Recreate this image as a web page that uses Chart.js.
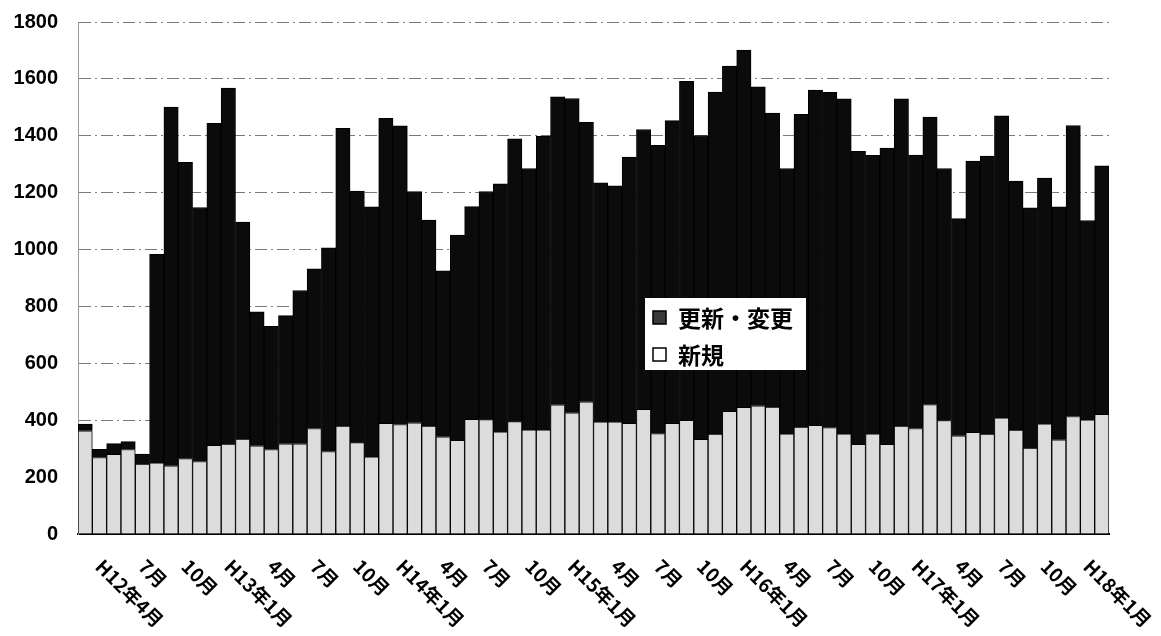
<!DOCTYPE html>
<html lang="ja">
<head>
<meta charset="utf-8">
<title>申請件数の推移</title>
<script src="https://cdn.jsdelivr.net/npm/chart.js@4.4.1/dist/chart.umd.min.js"></script>
<style>
    html, body { margin: 0; padding: 0; background: #fff; }
    #wrap { width: 1161px; height: 636px; position: relative; }
</style>
</head>
<body>
<div id="wrap"><canvas id="applicationsChart"></canvas></div>
<script>
// ── Data: monthly counts, H12年4月 – H18年3月 ──
const tickLabels = [
    'H12年4月', '7月', '10月', 'H13年1月', '4月', '7月', '10月', 'H14年1月',
    '4月', '7月', '10月', 'H15年1月', '4月', '7月', '10月', 'H16年1月',
    '4月', '7月', '10月', 'H17年1月', '4月', '7月', '10月', 'H18年1月'
];

// 新規 (bottom, light)
const shinki = [
    363, 269, 280, 297, 246, 250, 240, 265, 255, 312, 316, 334,
    310, 297, 317, 317, 371, 290, 379, 321, 271, 389, 385, 391,
    379, 342, 329, 403, 402, 359, 395, 366, 366, 454, 426, 465,
    394, 394, 389, 438, 353, 389, 400, 333, 351, 431, 445, 451,
    446, 352, 376, 382, 374, 352, 315, 352, 315, 379, 371, 455,
    399, 345, 357, 351, 408, 365, 302, 387, 331, 413, 401, 421
];

// 更新・変更 (stacked on top, dark)
const koshin = [
    23, 29, 38, 28, 35, 733, 1261, 1042, 893, 1132, 1252, 763,
    471, 433, 451, 539, 561, 716, 1047, 885, 879, 1072, 1050, 813,
    725, 583, 722, 748, 802, 872, 994, 919, 1033, 1083, 1105, 982,
    841, 830, 936, 984, 1013, 1064, 1191, 1068, 1203, 1214, 1256, 1121,
    1034, 933, 1099, 1179, 1179, 1178, 1030, 979, 1042, 1151, 961, 1011,
    886, 764, 954, 978, 1062, 876, 845, 864, 819, 1023, 701, 873
];

const yMax = 1800;
const yStep = 200;

// one category per month, a visible label every third month
const months = shinki.map((_, i) => (i % 3 === 0 ? tickLabels[i / 3] : ''));

const JP_FONT = '"Noto Sans CJK JP", "Noto Sans", sans-serif';

// ── Rotated month labels (text runs down to the right) ──
const slantedLabels = {
    id: 'slantedLabels',
    afterDraw(chart) {
        const ctx = chart.ctx;
        const xs = chart.scales.x;
        const base = chart.chartArea.bottom;
        ctx.save();
        ctx.fillStyle = '#000';
        ctx.font = 'bold 19px ' + JP_FONT;
        ctx.textAlign = 'left';
        ctx.textBaseline = 'middle';
        months.forEach((label, i) => {
            if (!label) return;
            const x = xs.getPixelForValue(i);
            ctx.save();
            ctx.translate(x + 14, base + 29);
            ctx.rotate(Math.PI / 4);
            ctx.fillText(label, 0, 0);
            ctx.restore();
        });
        ctx.restore();
    }
};

// ── Legend box inside the plot ──
const boxLegend = {
    id: 'boxLegend',
    afterDatasetsDraw(chart) {
        const ctx = chart.ctx;
        const left = 645, top = 298, w = 161, h = 72;
        ctx.save();
        ctx.fillStyle = '#fff';
        ctx.fillRect(left, top, w, h);

        const items = [chart.data.datasets[1], chart.data.datasets[0]];
        ctx.font = 'bold 23px ' + JP_FONT;
        ctx.textBaseline = 'middle';
        items.forEach((ds, k) => {
            const cy = top + 20 + k * 37;
            ctx.fillStyle = k === 0 ? '#3a3a3a' : '#fff';
            ctx.fillRect(left + 8, cy - 7, 13, 13);
            ctx.strokeStyle = '#000';
            ctx.lineWidth = 1.5;
            ctx.strokeRect(left + 8, cy - 7, 13, 13);
            ctx.fillStyle = '#000';
            ctx.fillText(ds.label, left + 33, cy);
        });
        ctx.restore();
    }
};

function initApplicationsChart() {
    const canvas = document.getElementById('applicationsChart');
    if (!canvas) return;
    const ctx = canvas.getContext('2d');

    new Chart(ctx, {
        type: 'bar',
        data: {
            labels: months,
            datasets: [
                {
                    label: '新規',
                    data: shinki,
                    backgroundColor: '#dcdcdc',
                    borderColor: '#000',
                    borderWidth: 1,
                    barPercentage: 1,
                    categoryPercentage: 1
                },
                {
                    label: '更新・変更',
                    data: koshin,
                    backgroundColor: '#0b0b0b',
                    borderColor: '#000',
                    borderWidth: 1,
                    barPercentage: 1,
                    categoryPercentage: 1
                }
            ]
        },
        options: {
            responsive: true,
            maintainAspectRatio: false,
            animation: false,
            layout: { padding: { top: 22, right: 52, left: 8, bottom: 0 } },
            plugins: {
                legend: { display: false },
                tooltip: { enabled: false }
            },
            scales: {
                x: {
                    stacked: true,
                    grid: { display: false, drawTicks: false },
                    ticks: { display: false },
                    border: { display: true, color: '#000', width: 2 },
                    afterFit: function (scale) {
                        scale.height = 102;
                        scale.paddingLeft = 0;
                        scale.paddingRight = 0;
                    }
                },
                y: {
                    stacked: true,
                    min: 0,
                    max: yMax,
                    grid: { color: '#7a7a7a', lineWidth: 1, drawTicks: false },
                    border: { color: '#9a9a9a', width: 1, dash: [12, 4, 2, 4] },
                    ticks: {
                        stepSize: yStep,
                        color: '#000',
                        padding: 20,
                        font: { family: '"Liberation Sans", Arial, sans-serif', size: 20, weight: 'bold' },
                        callback: function (val) { return String(val); }
                    },
                    afterFit: function (scale) {
                        scale.width = 70;
                        scale.paddingTop = 0;
                        scale.paddingBottom = 0;
                    }
                }
            }
        },
        plugins: [boxLegend, slantedLabels]
    });
}

document.addEventListener('DOMContentLoaded', initApplicationsChart);
</script>
</body>
</html>
